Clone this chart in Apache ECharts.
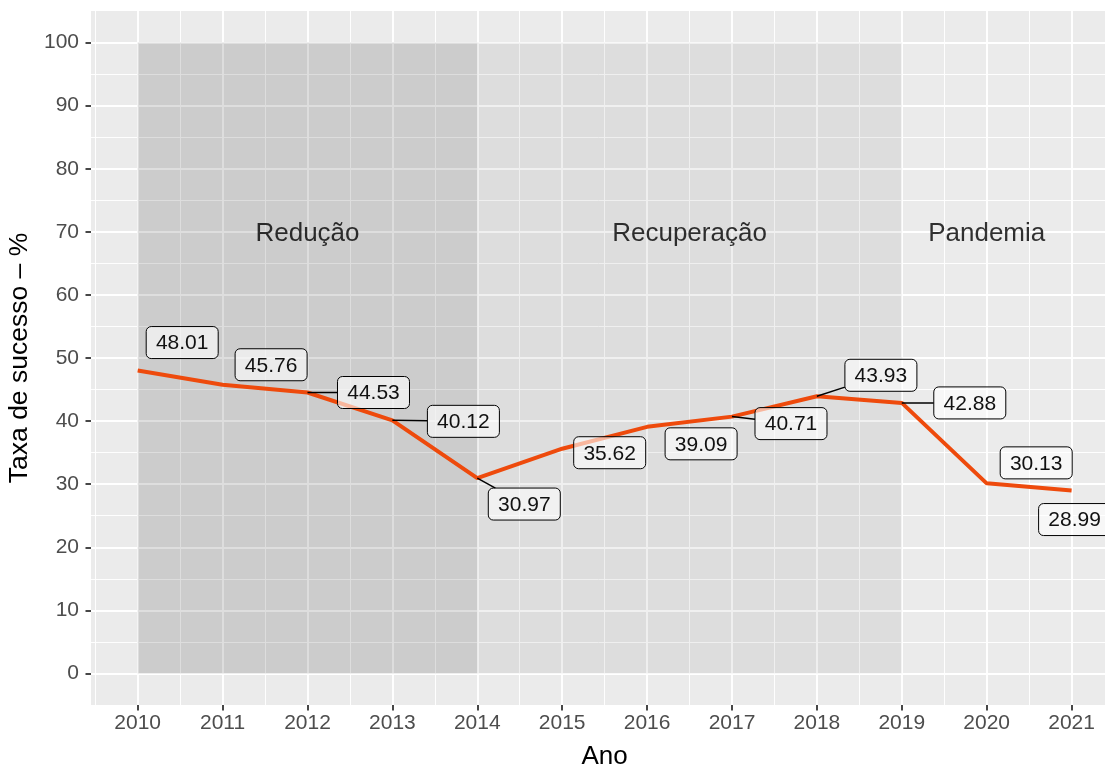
<!DOCTYPE html>
<html>
<head>
<meta charset="utf-8">
<script src="https://cdn.jsdelivr.net/npm/echarts@6.0.0/dist/echarts.min.js"></script>
<style>
  html, body { margin: 0; padding: 0; background: #fff; }
  #chart { width: 1105px; height: 764px; }
</style>
</head>
<body>
<div id="chart"></div>
<script>
// dados
const years = [2010, 2011, 2012, 2013, 2014, 2015, 2016, 2017, 2018, 2019, 2020, 2021];
const successRate = [48.01, 45.76, 44.53, 40.12, 30.97, 35.62, 39.09, 40.71, 43.93, 42.88, 30.13, 28.99];
const yTicks = [0, 10, 20, 30, 40, 50, 60, 70, 80, 90, 100];

const periodNames = ['Redução', 'Recuperação', 'Pandemia'];
const periodStart = [2010, 2014, 2019];
const periodEnd = [2014, 2019, 2021];
const periodLabelX = [2012, 2016.5, 2020];
const periodLabelY = 70;

// estilo
const FONT = '"Liberation Sans", Arial, Helvetica, sans-serif';
const periodFill = ['rgba(0,0,0,0.13)', 'rgba(0,0,0,0.06)', 'rgba(0,0,0,0)'];
// deslocamento (px) da caixa em relação ao ponto, e se tem segmento
const labelNudge = [
  [44.5, -28, 0], [48.5, -20, 0], [66, 0, 1], [71, 1, 1],
  [47, 26, 1], [47.5, 4, 0], [54, 17, 0], [59, 7, 1],
  [64, -21, 1], [68, 0, 1], [49.5, -20.5, 0], [3, 29, 0]
];
const BOX_W = 72, BOX_H = 32;

// painel (estilo ggplot, expandido)
const PANEL_LEFT = 91, PANEL_TOP = 11, PANEL_BOTTOM = 705, X_STEP = 84.9;
const xLim = [years[0] - 0.55, years[years.length - 1] + 0.55];
const yLim = [yTicks[0] - 5, yTicks[yTicks.length - 1] + 5];
const panelW = (xLim[1] - xLim[0]) * X_STEP;
const panelH = PANEL_BOTTOM - PANEL_TOP;

function gridBox(x0, x1, y0, y1) {
  const sx = panelW / (xLim[1] - xLim[0]);
  const sy = panelH / (yLim[1] - yLim[0]);
  return {
    left: PANEL_LEFT + (x0 - xLim[0]) * sx,
    width: (x1 - x0) * sx,
    top: PANEL_TOP + (yLim[1] - y1) * sy,
    height: (y1 - y0) * sy,
    outerBoundsMode: 'none',
    containLabel: false
  };
}

const majorLine = { show: true, lineStyle: { color: '#ffffff', width: 1.9 } };
const minorLine = { show: true, lineStyle: { color: '#ffffff', width: 0.95 } };
const hiddenAxis = (min, max) => ({ type: 'value', min, max, show: false });
const noLine = { show: false, onZero: false };

const xMinorMin = years[0] - 0.5, xMinorMax = years[years.length - 1] + 0.5;
const yMinorMin = yTicks[0] + 5, yMinorMax = yTicks[yTicks.length - 1] - 5;

const grids = [
  Object.assign(gridBox(xLim[0], xLim[1], yLim[0], yLim[1]),
    { show: true, backgroundColor: '#ebebeb', borderWidth: 0 }),
  gridBox(xMinorMin, xMinorMax, yLim[0], yLim[1]),          // x menores
  gridBox(xLim[0], xLim[1], yMinorMin, yMinorMax),          // y menores
  gridBox(years[0], years[years.length - 1], yLim[0], yLim[1]), // x maiores
  gridBox(xLim[0], xLim[1], yTicks[0], yTicks[yTicks.length - 1]) // y maiores
];

const xAxes = [
  hiddenAxis(xLim[0], xLim[1]),
  { type: 'value', gridIndex: 1, min: xMinorMin, max: xMinorMax, interval: 1,
    axisLine: noLine, axisTick: { show: false }, axisLabel: { show: false },
    splitLine: minorLine },
  Object.assign(hiddenAxis(xLim[0], xLim[1]), { gridIndex: 2 }),
  { type: 'value', gridIndex: 3, position: 'bottom', min: years[0], max: years[years.length - 1], interval: 1,
    axisLine: noLine,
    axisTick: { show: true, length: 5.5, lineStyle: { color: '#333', width: 1.8 } },
    axisLabel: { color: '#4d4d4d', fontSize: 21, fontFamily: FONT, margin: 8,
      formatter: v => String(v) },
    splitLine: majorLine,
    name: 'Ano', nameLocation: 'middle', nameGap: 39,
    nameTextStyle: { color: '#000', fontSize: 26, fontFamily: FONT } },
  Object.assign(hiddenAxis(xLim[0], xLim[1]), { gridIndex: 4 })
];

const yAxes = [
  hiddenAxis(yLim[0], yLim[1]),
  Object.assign(hiddenAxis(yLim[0], yLim[1]), { gridIndex: 1 }),
  { type: 'value', gridIndex: 2, min: yMinorMin, max: yMinorMax, interval: 10,
    axisLine: noLine, axisTick: { show: false }, axisLabel: { show: false },
    splitLine: minorLine },
  Object.assign(hiddenAxis(yLim[0], yLim[1]), { gridIndex: 3 }),
  { type: 'value', gridIndex: 4, position: 'left', min: yTicks[0], max: yTicks[yTicks.length - 1], interval: 10,
    axisLine: noLine,
    axisTick: { show: true, length: 5.5, lineStyle: { color: '#333', width: 1.8 } },
    axisLabel: { color: '#4d4d4d', fontSize: 21, fontFamily: FONT, margin: 12 },
    splitLine: majorLine,
    name: 'Taxa de sucesso – %', nameLocation: 'middle', nameGap: 54,
    nameTextStyle: { color: '#000', fontSize: 26.5, fontFamily: FONT } }
];

const lineData = years.map((y, i) => [y, successRate[i]]);

function labelItem(params, api) {
  const i = params.dataIndex;
  const p = api.coord([api.value(0), api.value(1)]);
  const n = labelNudge[i];
  const cx = p[0] + n[0], cy = p[1] + n[1];
  const children = [];
  if (n[2]) {
    const dx = n[0], dy = n[1];
    const tx = dx !== 0 ? 1 - (BOX_W / 2) / Math.abs(dx) : -Infinity;
    const ty = dy !== 0 ? 1 - (BOX_H / 2) / Math.abs(dy) : -Infinity;
    const t = Math.max(tx, ty);
    if (t > 0) {
      children.push({
        type: 'line',
        shape: { x1: p[0], y1: p[1], x2: p[0] + dx * t, y2: p[1] + dy * t },
        style: { stroke: '#000', lineWidth: 1.5 }
      });
    }
  }
  children.push({
    type: 'rect',
    shape: { x: cx - BOX_W / 2, y: cy - BOX_H / 2, width: BOX_W, height: BOX_H, r: 5 },
    style: { fill: 'rgba(255,255,255,0.6)', stroke: '#000', lineWidth: 1 }
  });
  children.push({
    type: 'text',
    style: {
      text: api.value(1).toFixed(2), x: cx, y: cy + 1,
      align: 'center', verticalAlign: 'middle',
      font: '21px ' + FONT, fill: '#111'
    }
  });
  return { type: 'group', children };
}

const chart = echarts.init(document.getElementById('chart'), null, { renderer: 'canvas' });
chart.setOption({
  animation: false,
  backgroundColor: '#ffffff',
  grid: grids,
  xAxis: xAxes,
  yAxis: yAxes,
  series: [
    {
      type: 'scatter',
      xAxisIndex: 0, yAxisIndex: 0,
      z: 2,
      symbolSize: 0,
      silent: true,
      data: periodLabelX.map(x => [x, periodLabelY]),
      label: {
        show: true, position: 'inside', offset: [0, 2],
        formatter: p => periodNames[p.dataIndex],
        color: '#000', fontSize: 26, fontFamily: FONT
      },
      markArea: {
        silent: true,
        data: periodNames.map((name, i) => [
          { xAxis: periodStart[i], yAxis: yTicks[0], itemStyle: { color: periodFill[i] } },
          { xAxis: periodEnd[i], yAxis: yTicks[yTicks.length - 1] }
        ])
      }
    },
    {
      type: 'line',
      xAxisIndex: 0, yAxisIndex: 0,
      z: 3,
      data: lineData,
      symbol: 'none',
      lineStyle: { color: '#ee4a0c', width: 4 },
      silent: true
    },
    {
      type: 'custom',
      xAxisIndex: 0, yAxisIndex: 0,
      z: 4,
      clip: false,
      silent: true,
      data: lineData,
      renderItem: labelItem
    }
  ]
});
</script>
</body>
</html>
